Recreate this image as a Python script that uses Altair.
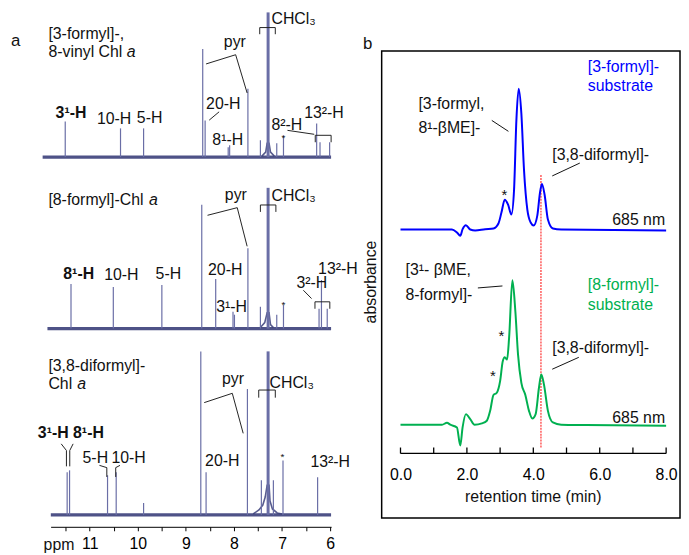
import altair as alt
import pandas as pd

FONT = "Liberation Sans"
NAVY = "#3b3f7a"
PEAK = "#6a6ea6"
BLUE = "#0000ff"
GREEN = "#00b050"
RED = "#ff5a5a"

# ---------------- Panel a : 1H NMR spectra ----------------
spec_names = ["[3-formyl]-, 8-vinyl Chl a", "[8-formyl]-Chl a", "[3,8-diformyl]-Chl a"]
spec_offset = [373, 200, 12]
spec_start = [11.98, 11.88, 11.81]
spec_end = [5.98, 5.98, 5.98]

peaks1_ppm = [11.51, 10.36, 9.88, 8.65, 8.60, 8.12, 8.09, 7.71, 7.45, 7.11, 6.97, 6.28, 6.21, 6.01]
peaks1_h = [36, 29, 29, 109, 37, 10, 12, 69, 17, 14, 21, 34, 15, 15]
peaks2_ppm = [11.39, 10.51, 9.50, 8.67, 8.38, 8.02, 7.99, 7.71, 7.45, 7.11, 6.97, 6.23, 6.18, 6.06]
peaks2_h = [45, 42, 44, 125, 50, 17, 14, 81, 22, 14, 24, 20, 49, 20]
peaks3_ppm = [11.47, 11.42, 10.63, 10.45, 9.88, 8.69, 8.58, 7.72, 7.43, 7.18, 6.98, 6.26]
peaks3_h = [43, 45, 40, 43, 12, 165, 43, 127, 35, 35, 55, 38]

solvent_ppm = [7.29, 7.29, 7.29]
solvent_h = [146, 142, 165]

skirt1_ppm = [7.42, 7.34, 7.31, 7.27, 7.24, 7.16]
skirt1_h = [1, 5, 14, 14, 5, 1]
skirt2_ppm = [7.45, 7.36, 7.31, 7.27, 7.24, 7.18]
skirt2_h = [1, 6, 16, 16, 4, 1]
skirt3_ppm = [7.60, 7.48, 7.40, 7.35, 7.31, 7.27, 7.25, 7.20, 7.10, 7.00]
skirt3_h = [1, 5, 10, 18, 30, 30, 14, 6, 2, 1]

ppm_ticks = [6.0, 6.5, 7.0, 7.5, 8.0, 8.5, 9.0, 9.5, 10.0, 10.5, 11.0, 11.5]

lab_a_text = ["[3-formyl]-,", "8-vinyl Chl", "10-H", "5-H", "pyr", "CHCl₃", "20-H", "8¹-H", "8²-H", "13²-H",
              "[8-formyl]-Chl", "10-H", "5-H", "pyr", "CHCl₃", "20-H", "3¹-H", "3²-H", "13²-H",
              "[3,8-diformyl]-", "Chl", "5-H", "10-H", "pyr", "CHCl₃", "20-H", "13²-H", "ppm"]
lab_a_x = [11.86, 11.86, 10.85, 10.02, 8.21, 7.22, 8.58, 8.45, 7.22, 6.54,
           11.86, 10.70, 9.63, 8.19, 7.22, 8.54, 8.37, 6.70, 6.25,
           11.86, 11.86, 11.15, 10.55, 8.25, 7.26, 8.60, 6.41, 11.96]
lab_a_y = [497, 479, 411, 412, 489, 512, 427, 390, 405, 417,
           330, 254, 255, 335, 334, 259, 222, 246, 260,
           162, 144, 69, 69, 149, 145, 66, 65, -18]

bold_a_text = ["3¹-H", "8¹-H", "3¹-H 8¹-H"]
bold_a_x = [11.71, 11.55, 12.08]
bold_a_y = [417, 255, 95]

ital_a_text = ["a", "a", "a"]
ital_a_x = [10.23, 9.77, 11.26]
ital_a_y = [479, 330, 144]

star_a_x = [6.97, 6.97, 6.99]
star_a_y = [392, 224, 70]

seg_a_x1 = [8.58, 7.965, 7.464, 7.464, 7.140, 8.515, 6.887, 6.309, 6.309, 5.979,
            8.55, 7.932, 7.45, 7.45, 7.128, 6.557, 6.315, 6.315, 6.006,
            11.594, 11.346, 11.485, 11.416, 10.798, 10.645, 10.371, 10.46, 8.619, 8.035, 7.485, 7.485, 7.14]
seg_a_y1 = [467, 476.3, 503.7, 503.7, 503.7, 410.3, 400, 395, 395, 395,
            314.3, 322, 324.7, 324.7, 324.7, 238.7, 227, 227, 227,
            83.7, 83.7, 77, 77, 62, 59.7, 62, 59.7, 125.3, 134.7, 138, 138, 138]
seg_a_x2 = [7.965, 7.726, 7.140, 7.464, 7.140, 8.309, 6.33, 5.979, 6.309, 5.979,
            7.932, 7.726, 7.128, 7.45, 7.128, 6.386, 6.006, 6.315, 6.006,
            11.485, 11.416, 11.485, 11.416, 10.645, 10.645, 10.46, 10.46, 8.035, 7.808, 7.14, 7.485, 7.14]
seg_a_y2 = [476.3, 437.7, 503.7, 497, 497, 418.7, 396, 395, 388, 388,
            322, 283, 324.7, 317.7, 317.7, 230.3, 227, 220, 220,
            77, 77, 61, 61, 59.7, 50.3, 59.7, 50.3, 134.7, 94.3, 138, 130.3, 130.3]

# ---------------- Panel b : HPLC ----------------
blue_t = [0.0, 1.55, 1.70, 1.80, 1.87, 1.97, 2.10, 2.25, 2.55, 2.80, 2.95, 3.04, 3.14, 3.24, 3.34, 3.42,
          3.49, 3.56, 3.64, 3.72, 3.82, 3.92, 4.01, 4.12, 4.20, 4.26, 4.34, 4.44, 4.59, 4.84, 8.0]
blue_a = [226, 226, 223, 219.7, 226.3, 230.3, 226, 225, 226.3, 227, 232, 243, 256, 251, 241, 266,
          336, 368, 343, 286, 246, 233, 230, 240, 263, 272, 261, 236, 227, 226, 225]
green_t = [0.0, 1.25, 1.40, 1.50, 1.70, 1.80, 1.87, 1.97, 2.10, 2.23, 2.45, 2.60, 2.70, 2.80, 2.90, 3.00,
           3.08, 3.14, 3.21, 3.27, 3.37, 3.46, 3.54, 3.64, 3.76, 3.87, 3.97, 4.07, 4.17, 4.24, 4.32,
           4.44, 4.59, 4.84, 5.6, 8.0]
green_a = [29, 29, 31, 29, 26.3, 8, 26.3, 39.7, 34.7, 29, 30.3, 33, 43, 59, 61.3, 73,
           93, 97, 94.7, 116.3, 174.7, 143, 99.7, 71.3, 59, 43, 35.3, 39.7, 66.3, 79.7, 69.7,
           43, 31.3, 29, 28.7, 28]

time_ticks = [0, 1, 2, 3, 4, 5, 6, 7, 8]
time_labels = [0, 2, 4, 6, 8]

lab_b_text = ["[3-formyl,", "8¹-βME]-", "[3,8-diformyl]-", "[3¹- βME,", "8-formyl]-", "[3,8-diformyl]-"]
lab_b_x = [0.54, 0.54, 4.57, 0.15, 0.15, 4.57]
lab_b_y = [353, 328, 301, 185, 160, 106]
nm_text = ["685 nm", "685 nm"]
nm_x = [7.97, 7.97]
nm_y = [235, 36]
star_b_x = [3.13, 3.04, 2.78]
star_b_y = [261, 118, 78]
blue_lab = ["[3-formyl]-", "substrate"]
blue_lab_y = [390, 371]
green_lab = ["[8-formyl]-", "substrate"]
green_lab_y = [170, 150]
sub_lab_x = 5.64

seg_b_x1 = [2.75, 5.40, 2.33, 5.37]
seg_b_y1 = [336, 293, 167, 97]
seg_b_x2 = [3.25, 4.57, 3.07, 4.57]
seg_b_y2 = [325, 280, 169, 85]

diformyl_t = 4.23
t_min, t_max = -0.567, 8.418
box_bottom, box_top = -65, 406

# ================= build panel a =================
xs_a = alt.Scale(domain=[5.979, 11.814], reverse=True, nice=False, zero=False)
ys_a = alt.Scale(domain=[0, 519], nice=False, zero=False)
ax_a = alt.Axis(values=ppm_ticks, labelExpr="datum.value % 1 == 0 ? format(datum.value, 'd') : ''",
                tickSize=4, tickColor="black", domainColor="black", labelColor="black",
                labelFont=FONT, labelFontSize=16, labelPadding=5, grid=False, title=None)


def XA(f):
    return alt.X(f, type="quantitative", scale=xs_a, axis=ax_a)


def YA(f):
    return alt.Y(f, type="quantitative", scale=ys_a, axis=None)


spec_df = pd.DataFrame({"name": spec_names, "off": spec_offset, "s": spec_start, "e": spec_end})

rows = []
for name, off, pp, hh in zip(spec_names, spec_offset, [peaks1_ppm, peaks2_ppm, peaks3_ppm],
                             [peaks1_h, peaks2_h, peaks3_h]):
    for p, h in zip(pp, hh):
        rows.append({"name": name, "ppm": p, "y0": off, "y1": off + h})
peaks_df = pd.DataFrame(rows)
solv_df = pd.DataFrame({"ppm": solvent_ppm, "y0": spec_offset,
                        "y1": [o + h for o, h in zip(spec_offset, solvent_h)]})
rows = []
for name, off, pp, hh in zip(spec_names, spec_offset, [skirt1_ppm, skirt2_ppm, skirt3_ppm],
                             [skirt1_h, skirt2_h, skirt3_h]):
    for i, (p, h) in enumerate(zip(pp, hh)):
        rows.append({"name": name, "ppm": p, "y": off + h, "o": i})
skirt_df = pd.DataFrame(rows)

baseline = alt.Chart(spec_df).mark_rule(color=NAVY, strokeWidth=3.2, opacity=0.9).encode(
    x=XA("s"), x2="e", y=YA("off"))
peaks = alt.Chart(peaks_df).mark_rule(color=PEAK, strokeWidth=1.2).encode(
    x=XA("ppm"), y=YA("y0"), y2="y1")
solvent = alt.Chart(solv_df).mark_rule(color=PEAK, strokeWidth=3).encode(
    x=XA("ppm"), y=YA("y0"), y2="y1")
skirt = alt.Chart(skirt_df).mark_line(color=NAVY, strokeWidth=1.6, opacity=0.85).encode(
    x=XA("ppm"), y=YA("y"), detail="name:N", order="o:Q")

seg_a = alt.Chart(pd.DataFrame({"x1": seg_a_x1, "y1": seg_a_y1, "x2": seg_a_x2, "y2": seg_a_y2})).mark_rule(
    color="#222222", strokeWidth=1).encode(x=XA("x1"), y=YA("y1"), x2="x2", y2="y2")

txt_a = alt.Chart(pd.DataFrame({"t": lab_a_text, "x": lab_a_x, "y": lab_a_y})).mark_text(
    align="left", baseline="middle", font=FONT, fontSize=16, color="#111111").encode(
    x=XA("x"), y=YA("y"), text="t:N")
bold_a = alt.Chart(pd.DataFrame({"t": bold_a_text, "x": bold_a_x, "y": bold_a_y})).mark_text(
    align="left", baseline="middle", font=FONT, fontSize=16, fontWeight="bold", color="#111111").encode(
    x=XA("x"), y=YA("y"), text="t:N")
ital_a = alt.Chart(pd.DataFrame({"t": ital_a_text, "x": ital_a_x, "y": ital_a_y})).mark_text(
    align="left", baseline="middle", font=FONT, fontSize=16, fontStyle="italic", color="#111111").encode(
    x=XA("x"), y=YA("y"), text="t:N")
star_a = alt.Chart(pd.DataFrame({"x": star_a_x, "y": star_a_y, "t": ["*"] * len(star_a_x)})).mark_text(
    align="center", baseline="middle", font=FONT, fontSize=10, color="#111111").encode(
    x=XA("x"), y=YA("y"), text="t:N")
letter_a = alt.Chart(pd.DataFrame({"x": [12.54], "y": [490], "t": ["a"]})).mark_text(
    align="center", baseline="middle", font=FONT, fontSize=17, color="#111111").encode(
    x=XA("x"), y=YA("y"), text="t:N")

panel_a = alt.layer(baseline, skirt, peaks, solvent, seg_a, txt_a, bold_a, ital_a, star_a, letter_a).properties(
    width=283, height=519)

# ================= build panel b =================
xs_b = alt.Scale(domain=[t_min, t_max], nice=False, zero=False)
ys_b = alt.Scale(domain=[0, 445], nice=False, zero=False)
ax_b = alt.Axis(values=time_labels, format=".1f", domain=False, ticks=False, grid=False, title=None,
                labelFont=FONT, labelFontSize=16, labelColor="black", labelPadding=13)


def XB(f):
    return alt.X(f, type="quantitative", scale=xs_b, axis=ax_b)


def YB(f):
    return alt.Y(f, type="quantitative", scale=ys_b, axis=None)


box = alt.Chart(pd.DataFrame({"x1": [t_min], "x2": [t_max], "y1": [box_bottom], "y2": [box_top]})).mark_rect(
    filled=False, stroke="black", strokeWidth=1.5).encode(x=XB("x1"), x2="x2", y=YB("y1"), y2="y2")
axis_line = alt.Chart(pd.DataFrame({"a": [time_ticks[0]], "b": [time_ticks[-1]], "y": [0]})).mark_rule(
    color="black", strokeWidth=1.3).encode(x=XB("a"), x2="b", y=YB("y"))
tick_df = pd.DataFrame({"t": time_ticks, "y0": [0] * len(time_ticks), "y1": [6] * len(time_ticks)})
ticks_b = alt.Chart(tick_df).mark_rule(color="black", strokeWidth=1.3).encode(x=XB("t"), y=YB("y0"), y2="y1")

red = alt.Chart(pd.DataFrame({"t": [diformyl_t], "y0": [6], "y1": [282]})).mark_rule(
    color=RED, strokeWidth=1.5, strokeDash=[2, 1]).encode(x=XB("t"), y=YB("y0"), y2="y1")
blue = alt.Chart(pd.DataFrame({"t": blue_t, "a": blue_a})).mark_line(
    color=BLUE, strokeWidth=2, interpolate="monotone").encode(x=XB("t"), y=YB("a"))
green = alt.Chart(pd.DataFrame({"t": green_t, "a": green_a})).mark_line(
    color=GREEN, strokeWidth=2, interpolate="monotone").encode(x=XB("t"), y=YB("a"))

seg_b = alt.Chart(pd.DataFrame({"x1": seg_b_x1, "y1": seg_b_y1, "x2": seg_b_x2, "y2": seg_b_y2})).mark_rule(
    color="#111111", strokeWidth=1).encode(x=XB("x1"), y=YB("y1"), x2="x2", y2="y2")
txt_b = alt.Chart(pd.DataFrame({"t": lab_b_text, "x": lab_b_x, "y": lab_b_y})).mark_text(
    align="left", baseline="middle", font=FONT, fontSize=16, color="#111111").encode(
    x=XB("x"), y=YB("y"), text="t:N")
nm_b = alt.Chart(pd.DataFrame({"t": nm_text, "x": nm_x, "y": nm_y})).mark_text(
    align="right", baseline="middle", font=FONT, fontSize=16, color="#111111").encode(
    x=XB("x"), y=YB("y"), text="t:N")
star_b = alt.Chart(pd.DataFrame({"x": star_b_x, "y": star_b_y, "t": ["*"] * len(star_b_x)})).mark_text(
    align="center", baseline="middle", font=FONT, fontSize=15, color="#111111").encode(
    x=XB("x"), y=YB("y"), text="t:N")
blue_txt = alt.Chart(pd.DataFrame({"t": blue_lab, "x": [sub_lab_x] * 2, "y": blue_lab_y})).mark_text(
    align="left", baseline="middle", font=FONT, fontSize=16, color=BLUE).encode(
    x=XB("x"), y=YB("y"), text="t:N")
green_txt = alt.Chart(pd.DataFrame({"t": green_lab, "x": [sub_lab_x] * 2, "y": green_lab_y})).mark_text(
    align="left", baseline="middle", font=FONT, fontSize=16, color=GREEN).encode(
    x=XB("x"), y=YB("y"), text="t:N")
letter_b = alt.Chart(pd.DataFrame({"x": [-0.985], "y": [413], "t": ["b"]})).mark_text(
    align="center", baseline="middle", font=FONT, fontSize=17, color="#111111").encode(
    x=XB("x"), y=YB("y"), text="t:N")
ytitle = alt.Chart(pd.DataFrame({"x": [-0.90], "y": [173], "t": ["absorbance"]})).mark_text(
    align="center", baseline="middle", font=FONT, fontSize=16, angle=270, color="#111111").encode(
    x=XB("x"), y=YB("y"), text="t:N")
xtitle = alt.Chart(pd.DataFrame({"x": [4.0], "y": [-44], "t": ["retention time (min)"]})).mark_text(
    align="center", baseline="middle", font=FONT, fontSize=16, color="#111111").encode(
    x=XB("x"), y=YB("y"), text="t:N")

panel_b = alt.layer(box, axis_line, ticks_b, red, blue, green, seg_b, txt_b, nm_b, star_b,
                    blue_txt, green_txt, letter_b, ytitle, xtitle).properties(width=301, height=445)

chart = alt.hconcat(panel_a, panel_b, spacing=51, bounds="flush").properties(
    padding={"left": 3, "top": 0, "right": 0, "bottom": 0}
).configure_view(strokeWidth=0)

chart.save("out.html", embed_options={"renderer": "svg", "actions": False})
